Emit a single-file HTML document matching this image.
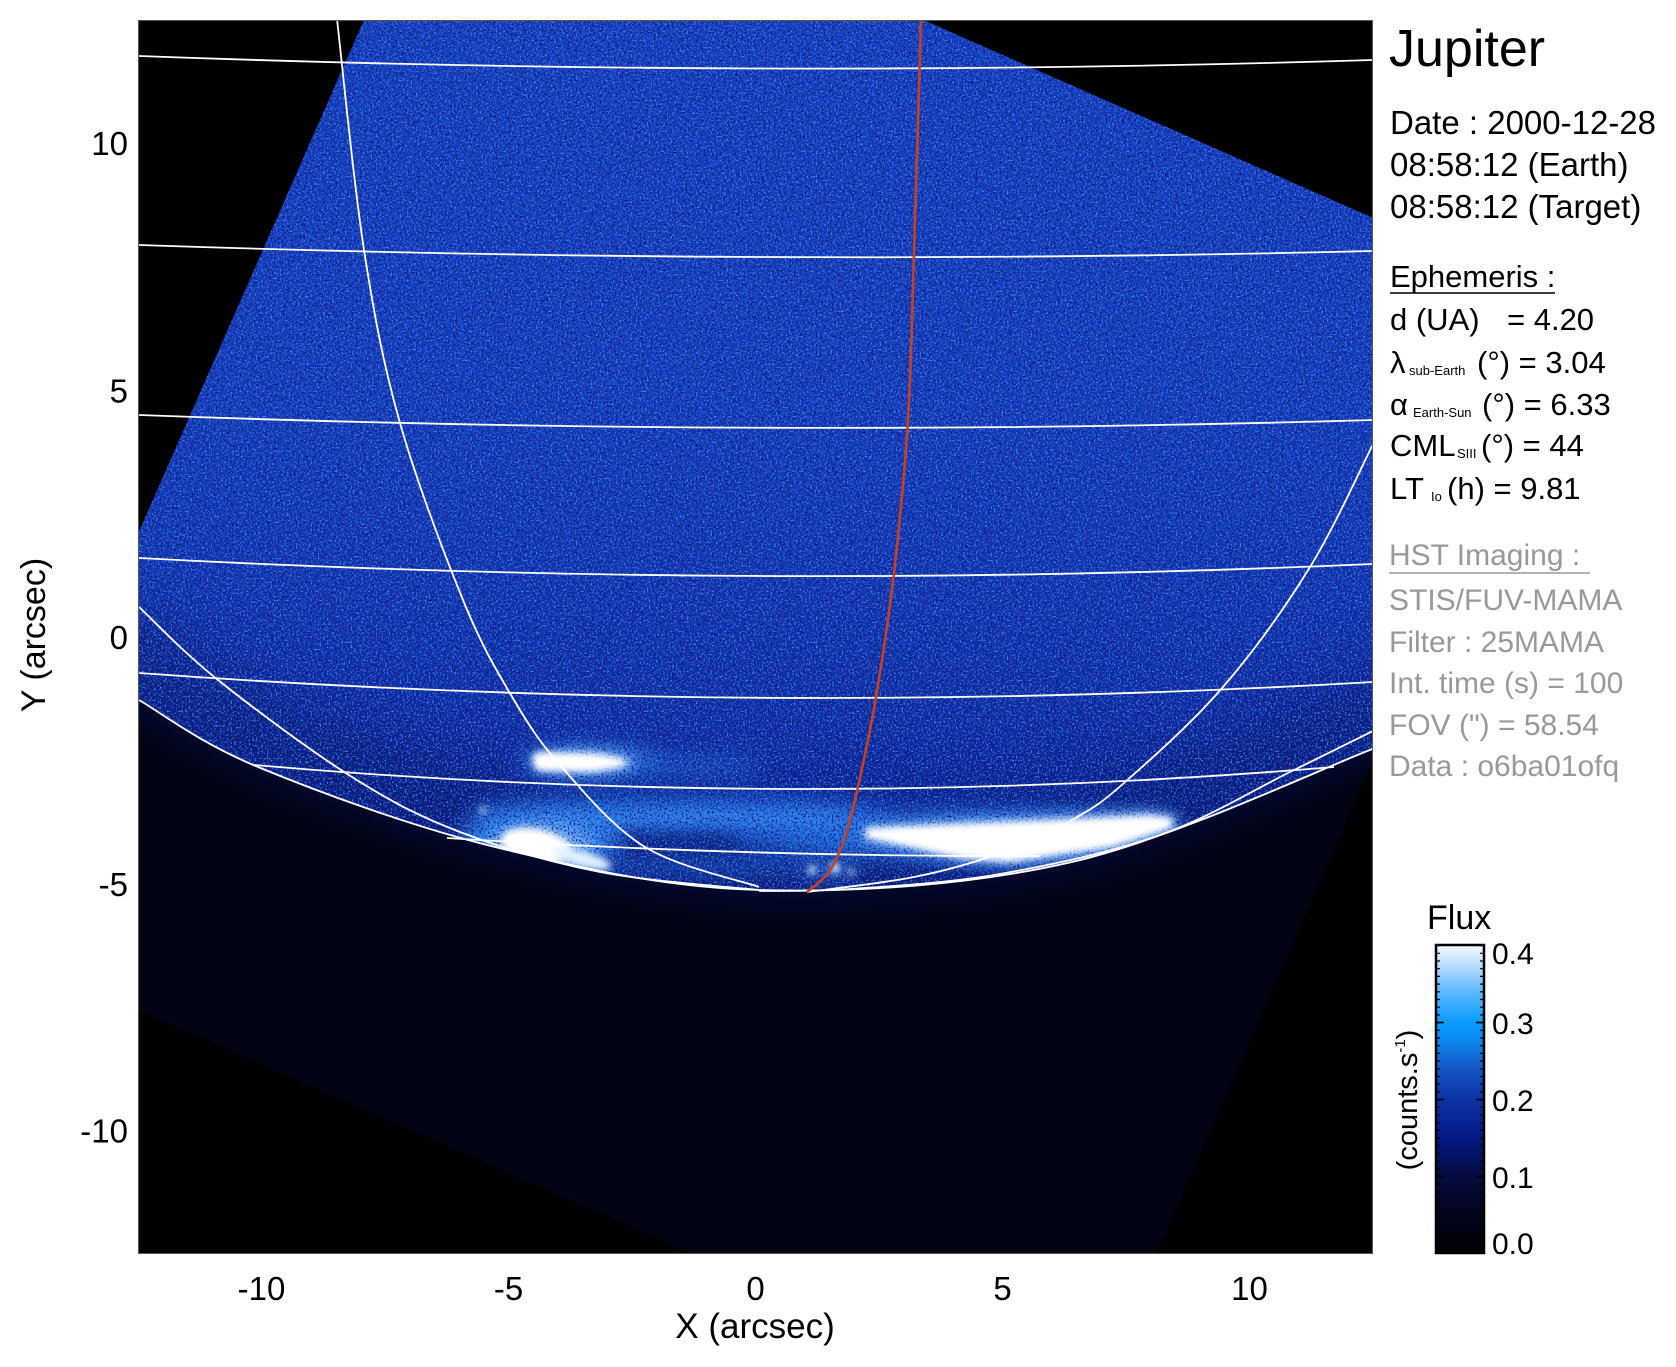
<!DOCTYPE html>
<html>
<head>
<meta charset="utf-8">
<style>
  html,body{margin:0;padding:0;background:#fff;width:1676px;height:1367px;overflow:hidden;}
  svg{display:block;}
  text{font-family:"Liberation Sans", Arial, sans-serif;}
  filter{color-interpolation-filters:sRGB;}
</style>
</head>
<body>
<svg width="1676" height="1367" viewBox="0 0 1676 1367" xmlns="http://www.w3.org/2000/svg">
  <defs>
    <clipPath id="plot"><rect x="138" y="20" width="1235" height="1234"/></clipPath>
    <clipPath id="sq"><polygon points="454.7,-186.1 1573.3,306 1081,1424.7 -37.5,932.6"/></clipPath>
    <clipPath id="diskclip">
      <path d="M0,630 L139,700 C158.8,711.2 198.7,742.5 258,767 S411.5,826.5 495,847 S662.8,887.5 759,890 S969.3,885.7 1072,862 S1324.5,767 1375,748 L1450,715 L1450,-300 L0,-300 Z"/>
    </clipPath>
    <linearGradient id="diskGrad" gradientUnits="userSpaceOnUse" x1="0" y1="-190" x2="0" y2="890">
      <stop offset="0" stop-color="#1640bf"/>
      <stop offset="0.55" stop-color="#153cba"/>
      <stop offset="0.73" stop-color="#1234ae"/>
      <stop offset="0.84" stop-color="#0e2ca0"/>
      <stop offset="0.93" stop-color="#0a2290"/>
      <stop offset="1" stop-color="#081c80"/>
    </linearGradient>
    <linearGradient id="cbGrad" x1="0" y1="1" x2="0" y2="0">
      <stop offset="0" stop-color="#000000"/>
      <stop offset="0.15" stop-color="#030522"/>
      <stop offset="0.25" stop-color="#050b40"/>
      <stop offset="0.375" stop-color="#041a85"/>
      <stop offset="0.5" stop-color="#0d32a4"/>
      <stop offset="0.6" stop-color="#1457c6"/>
      <stop offset="0.7" stop-color="#0a8cf5"/>
      <stop offset="0.75" stop-color="#0a9cff"/>
      <stop offset="0.85" stop-color="#5fb8ff"/>
      <stop offset="0.93" stop-color="#b5dcff"/>
      <stop offset="1" stop-color="#f5faff"/>
    </linearGradient>
    <filter id="spk" x="0" y="0" width="1" height="1" color-interpolation-filters="sRGB">
      <feTurbulence type="fractalNoise" baseFrequency="0.55" numOctaves="2" seed="4"/>
      <feColorMatrix type="matrix" values="0 0 0 0 0.26  0 0 0 0 0.52  0 0 0 0 1  4 0 0 0 -2.05"/>
    </filter>
    <filter id="spkd" x="0" y="0" width="1" height="1" color-interpolation-filters="sRGB">
      <feTurbulence type="fractalNoise" baseFrequency="0.5" numOctaves="2" seed="11"/>
      <feColorMatrix type="matrix" values="0 0 0 0 0.03  0 0 0 0 0.10  0 0 0 0 0.50  0 4 0 0 -1.9"/>
    </filter>
    <filter id="b3" x="-20%" y="-50%" width="140%" height="200%" color-interpolation-filters="sRGB"><feGaussianBlur stdDeviation="3.5"/></filter>
    <filter id="b6" x="-30%" y="-80%" width="160%" height="260%" color-interpolation-filters="sRGB"><feGaussianBlur stdDeviation="6"/></filter>
    <filter id="b10" x="-30%" y="-100%" width="160%" height="300%" color-interpolation-filters="sRGB"><feGaussianBlur stdDeviation="10"/></filter>
    <filter id="b30" x="-20%" y="-50%" width="140%" height="200%" color-interpolation-filters="sRGB"><feGaussianBlur stdDeviation="30"/></filter>
  </defs>

  <g clip-path="url(#plot)">
    <rect x="138" y="20" width="1235" height="1234" fill="#000"/>
    <g clip-path="url(#sq)">
      <rect x="138" y="20" width="1235" height="1234" fill="#020414"/>
      <path d="M0,630 L139,700 C158.8,711.2 198.7,742.5 258,767 S411.5,826.5 495,847 S662.8,887.5 759,890 S969.3,885.7 1072,862 S1324.5,767 1375,748 L1450,715" fill="none" stroke="#040a3a" stroke-width="36" filter="url(#b10)" opacity="0.6"/>
      <rect x="138" y="20" width="1235" height="1234" fill="url(#diskGrad)" clip-path="url(#diskclip)"/>
      <g clip-path="url(#diskclip)">
        <path d="M0,630 L139,700 C158.8,711.2 198.7,742.5 258,767 S411.5,826.5 495,847 S662.8,887.5 759,890 S969.3,885.7 1072,862 S1324.5,767 1375,748 L1450,715" fill="none" stroke="#04105a" stroke-width="150" filter="url(#b30)" opacity="0.5"/>
        <g filter="url(#b10)">
          <ellipse cx="985" cy="836" rx="200" ry="26" fill="#2a84f2" opacity="0.85"/>
          <ellipse cx="800" cy="830" rx="70" ry="22" fill="#2278e6" opacity="0.7"/>
          <ellipse cx="680" cy="814" rx="210" ry="16" fill="#2680ee" opacity="0.9"/>
          <ellipse cx="540" cy="840" rx="80" ry="34" fill="#3490f4" opacity="0.95"/>
          <ellipse cx="700" cy="866" rx="130" ry="10" fill="#1e66d4" opacity="0.65"/>
          <ellipse cx="590" cy="762" rx="72" ry="16" fill="#3a90f0" opacity="0.85"/>
          <ellipse cx="680" cy="766" rx="85" ry="8" fill="#2a78e0" opacity="0.7"/>
          <ellipse cx="830" cy="871" rx="30" ry="8" fill="#4aa0ff" opacity="0.7"/>
        </g>
        <g filter="url(#b6)">
          <polygon points="862,826 950,819 1050,814 1150,809 1178,814 1178,830 1115,852 1009,867 955,862 895,848 862,842" fill="#7cbcff" opacity="0.9"/>
          <ellipse cx="540" cy="848" rx="55" ry="26" fill="#7cbcff" opacity="0.9"/>
          <ellipse cx="585" cy="762" rx="52" ry="14" fill="#7cbcff" opacity="0.8"/>
          <ellipse cx="700" cy="818" rx="160" ry="7" fill="#3a94f4" opacity="0.7"/>
        </g>
        <rect x="138" y="20" width="1235" height="1234" filter="url(#spkd)"/>
        <rect x="138" y="20" width="1235" height="1234" filter="url(#spk)"/>
        <g filter="url(#b3)" fill="#fff">
          <polygon points="866,828 950,824 1050,820 1150,815 1172,818 1172,828 1112,847 1009,862 960,858 900,845 866,838"/>
          <path d="M536,752 Q528,761 538,771 L590,772 Q628,768 628,762 Q622,756 590,753 Z"/>
          <ellipse cx="537" cy="846" rx="37" ry="17" transform="rotate(12 537 846)"/>
          <ellipse cx="582" cy="859" rx="30" ry="8" transform="rotate(15 582 859)" fill="#dff0ff"/>
          <circle cx="812" cy="870" r="4" fill="#cfe8ff"/>
          <circle cx="835" cy="868" r="5" fill="#cfe8ff"/>
          <circle cx="851" cy="872" r="3" fill="#cfe8ff"/>
          <circle cx="483" cy="810" r="3"/>
        </g>
      </g>
    </g>

    <g fill="none" stroke="#ffffff" stroke-width="1.8">
      <path d="M139,56 Q756,79 1373,60"/>
      <path d="M139,245 Q756,266 1373,251"/>
      <path d="M139,415 Q756,438 1373,420"/>
      <path d="M139,558 Q756,591 1373,564"/>
      <path d="M139,673 Q756,718 1373,682"/>
      <path d="M254,765 Q794,812 1334,767"/>
      <path d="M447,838 Q743,857 1040,856"/>
      <path d="M139,700 C158.8,711.2 198.7,742.5 258,767 S411.5,826.5 495,847 S662.8,887.5 759,890 S969.3,885.7 1072,862 S1324.5,767 1375,748"/>
      <path d="M337,19 C341.5,57.5 353.5,182.7 364,250 S383.5,364.7 400,423 S444.5,554.7 463,600 S494.8,667.5 511,695 S537.7,739.7 560,765 S611.8,826.7 645,847 S740,880.3 759,887"/>
      <path d="M1375,440 C1364.2,461.2 1335.3,525.8 1310,567 S1254,651 1223,687 S1149.2,760.8 1124,783 S1092.5,808.3 1072,820 S1027.3,843.5 1001,853 S946.3,870.5 914,877 S824.8,889.5 807,892"/>
      <path d="M139,607 C152.2,619.2 182.5,651.7 218,680 S311.7,751.7 352,777 S418.7,816.2 460,832 S550.2,862.3 600,872 S732.5,887 759,890"/>
      <path d="M1375,730 C1360.8,737 1325.8,754.5 1290,772 S1208.3,818 1160,835 S1051.7,865 1000,874 S890.2,886.2 850,889 S774.2,890.7 759,891"/>
    </g>
    <path d="M921,19 C920,52.5 917.2,153.2 915,220 S911.5,361.2 908,420 S899.3,526.8 894,573 S882,661.3 876,697 S863.2,763.7 858,787 S849.8,822.8 845,837 S835.3,862.8 829,872 S810.7,888.7 807,892" fill="none" stroke="#c8401e" stroke-width="2.6"/>
    <rect x="138.5" y="20.5" width="1234" height="1233" fill="none" stroke="#555" stroke-width="1.2"/>
  </g>

  <g font-size="33" fill="#000" text-anchor="end">
    <text x="128" y="155">10</text>
    <text x="128" y="402.5">5</text>
    <text x="128" y="649">0</text>
    <text x="128" y="896">-5</text>
    <text x="128" y="1142.6">-10</text>
  </g>
  <g font-size="33" fill="#000" text-anchor="middle">
    <text x="261.5" y="1300">-10</text>
    <text x="508.5" y="1300">-5</text>
    <text x="755.5" y="1300">0</text>
    <text x="1002.5" y="1300">5</text>
    <text x="1249.5" y="1300">10</text>
  </g>
  <text x="755" y="1338" font-size="35" text-anchor="middle">X (arcsec)</text>
  <text transform="translate(45,635) rotate(-90)" font-size="34" text-anchor="middle">Y (arcsec)</text>

  <g fill="#000">
    <text x="1389" y="66" font-size="52">Jupiter</text>
    <text x="1390" y="134" font-size="33">Date : 2000-12-28</text>
    <text x="1390" y="176" font-size="33">08:58:12 (Earth)</text>
    <text x="1390" y="218" font-size="33">08:58:12 (Target)</text>
    <text x="1390" y="287" font-size="31">Ephemeris :</text>
    <line x1="1390" y1="293" x2="1555" y2="293" stroke="#000" stroke-width="1.5"/>
    <text x="1390" y="330" font-size="31">d (UA)</text>
    <text x="1507" y="330" font-size="31">= 4.20</text>
    <text x="1390" y="373" font-size="31">λ</text>
    <text x="1409" y="375" font-size="13">sub-Earth</text>
    <text x="1477" y="373" font-size="31">(°) = 3.04</text>
    <text x="1390" y="415" font-size="31">α</text>
    <text x="1413" y="417" font-size="13">Earth-Sun</text>
    <text x="1482" y="415" font-size="31">(°) = 6.33</text>
    <text x="1390" y="456" font-size="31">CML</text>
    <text x="1457" y="458" font-size="13">SIII</text>
    <text x="1481" y="456" font-size="31">(°) = 44</text>
    <text x="1390" y="499" font-size="31">LT</text>
    <text x="1431" y="501" font-size="13">Io</text>
    <text x="1447" y="499" font-size="31">(h) = 9.81</text>
  </g>
  <g fill="#999" font-size="30">
    <text x="1389" y="565">HST Imaging :</text>
    <line x1="1389" y1="573" x2="1590" y2="573" stroke="#999" stroke-width="1.5"/>
    <text x="1389" y="610">STIS/FUV-MAMA</text>
    <text x="1389" y="652">Filter : 25MAMA</text>
    <text x="1389" y="693">Int. time (s) = 100</text>
    <text x="1389" y="735">FOV (") = 58.54</text>
    <text x="1389" y="776">Data : o6ba01ofq</text>
  </g>

  <text x="1427" y="929" font-size="34">Flux</text>
  <rect x="1436" y="945" width="48" height="308" fill="url(#cbGrad)"/>
  <g stroke="#000" fill="none">
    <line x1="1438" y1="945" x2="1438" y2="1253" stroke-width="4" stroke-dasharray="1.2 6.5"/>
    <line x1="1482" y1="945" x2="1482" y2="1253" stroke-width="4" stroke-dasharray="1.2 6.5"/>
    <line x1="1436" y1="1022.5" x2="1444" y2="1022.5" stroke-width="1.6"/>
    <line x1="1436" y1="1099.5" x2="1444" y2="1099.5" stroke-width="1.6"/>
    <line x1="1436" y1="1176.5" x2="1444" y2="1176.5" stroke-width="1.6"/>
    <line x1="1476" y1="1022.5" x2="1484" y2="1022.5" stroke-width="1.6"/>
    <line x1="1476" y1="1099.5" x2="1484" y2="1099.5" stroke-width="1.6"/>
    <line x1="1476" y1="1176.5" x2="1484" y2="1176.5" stroke-width="1.6"/>
    <rect x="1436" y="945" width="48" height="308" stroke-width="2.5"/>
  </g>
  <g font-size="30" fill="#000">
    <text x="1492" y="964">0.4</text>
    <text x="1492" y="1034">0.3</text>
    <text x="1492" y="1111">0.2</text>
    <text x="1492" y="1188">0.1</text>
    <text x="1492" y="1254">0.0</text>
  </g>
  <text transform="translate(1417,1100) rotate(-90)" font-size="29" text-anchor="middle">(counts.s<tspan font-size="15" dy="-12">-1</tspan><tspan dy="12">)</tspan></text>
</svg>
</body>
</html>
